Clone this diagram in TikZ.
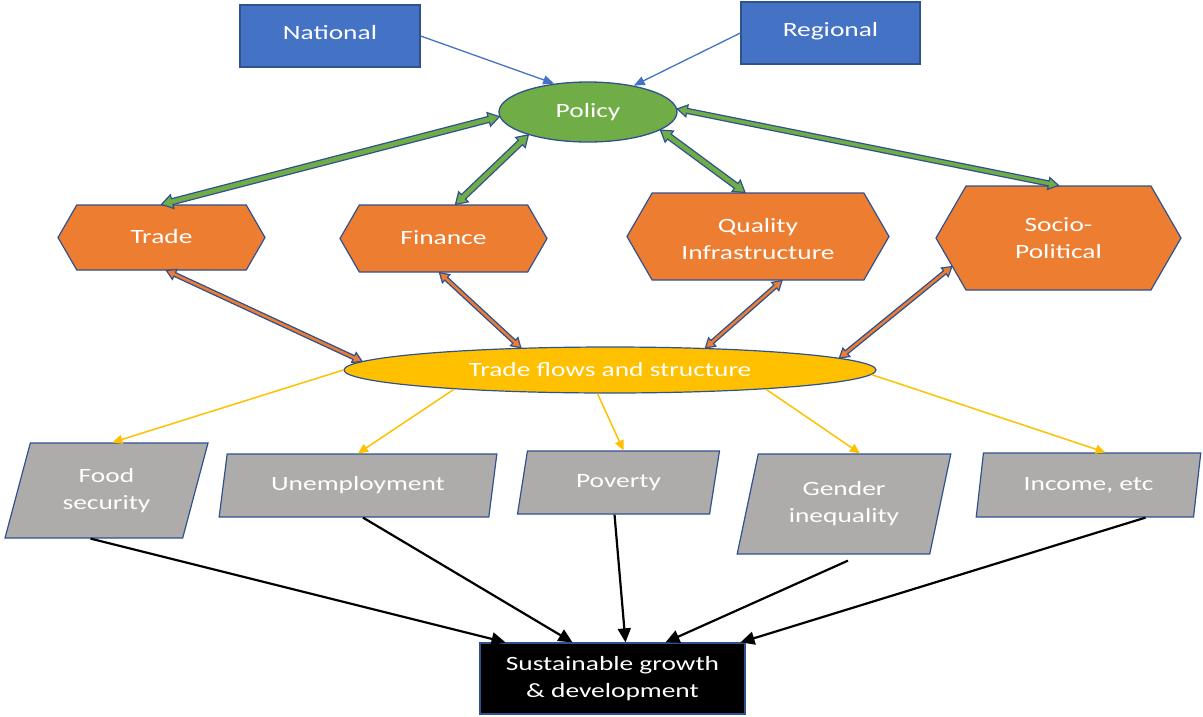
\documentclass[tikz,border=0pt]{standalone}
\usepackage{fontspec}
\setmainfont{Carlito}[FakeStretch=1.35]
\usetikzlibrary{shapes.geometric,shapes.symbols,arrows.meta,calc}
\definecolor{cblue}{HTML}{4472C4}
\definecolor{cedge}{HTML}{2F528F}
\definecolor{cgreen}{HTML}{70AD47}
\definecolor{corange}{HTML}{ED7D31}
\definecolor{cyellow}{HTML}{FFC000}
\definecolor{cgray}{HTML}{AEABAB}
\newcommand\blockarr[6]{%
  \path (#1) coordinate (bA) (#2) coordinate (bB);
  \path ($(bA)!#5!(bB)$) coordinate (bA1) ($(bB)!#5!(bA)$) coordinate (bB1);
  \draw[barrow,fill=#6] (bA) -- ($(bA1)!#4!90:(bB)$) -- ($(bA1)!#3!90:(bB)$)
    -- ($(bB1)!#3!-90:(bA)$) -- ($(bB1)!#4!-90:(bA)$) -- (bB)
    -- ($(bB1)!#4!90:(bA)$) -- ($(bB1)!#3!90:(bA)$)
    -- ($(bA1)!#3!-90:(bB)$) -- ($(bA1)!#4!-90:(bB)$) -- cycle;
}
\tikzset{
  every node/.style={text=white,font=\fontsize{20.3}{27}\selectfont,align=center,inner sep=2pt},
  bluebox/.style={rectangle,draw=cedge,line width=1.3pt,fill=cblue},
  hexbox/.style={signal,signal to=west and east,signal pointer angle=120,draw=cedge,line width=1.2pt,fill=corange},
  parbox/.style={trapezium,trapezium left angle=#1,trapezium right angle={180-#1},trapezium stretches=true,draw=cedge,line width=1.2pt,fill=cgray},
  barrow/.style={draw=cedge,line width=1.2pt,line join=miter},
  bluearr/.style={cblue,line width=1.3pt,-{Triangle[length=11pt,width=9pt]}},
  yelarr/.style={cyellow,line width=1.5pt,-{Triangle[length=10pt,width=9pt]}},
  blkarr/.style={black,line width=2.2pt,-{Triangle[length=14pt,width=13pt]}},
}
\begin{document}
\begin{tikzpicture}[x=1pt,y=-1pt]
\useasboundingbox (0,0) rectangle (1203,716);
% nodes
\node[bluebox,minimum width=180pt,minimum height=62pt] (national) at (330,36) {\raisebox{7pt}{National}};
\node[bluebox,minimum width=179pt,minimum height=62pt] (regional) at (830.5,33) {\raisebox{7pt}{Regional}};
\node[ellipse,draw=cedge,line width=1.3pt,fill=cgreen,minimum width=178pt,minimum height=60pt,inner sep=0pt] (policy) at (588,112) {\raisebox{-1pt}{Policy}};
\node[hexbox,minimum width=207pt,minimum height=65pt] (trade) at (161.5,237.5) {\raisebox{2pt}{Trade}};
\node[hexbox,minimum width=207pt,minimum height=67pt] (finance) at (443.5,238.5) {\raisebox{2pt}{Finance}};
\node[hexbox,minimum width=262pt,minimum height=87pt,label={[yshift=-3pt]center:Quality\\Infrastructure}] (qi) at (758,236.5) {};
\node[hexbox,minimum width=245pt,minimum height=104pt] (socio) at (1058.5,238) {Socio-\\Political};
\node[ellipse,draw=cedge,line width=1.2pt,fill=cyellow,minimum width=532pt,minimum height=46pt,inner sep=0pt] (tf) at (610,370) {Trade flows and structure};
\node[parbox=72.5,minimum width=203pt,minimum height=95pt] (food) at (106.5,490.5) {Food\\security};
\node[parbox=75.7,minimum width=278pt,minimum height=63pt] (unemp) at (358,485.5) {\raisebox{1pt}{Unemployment}};
\node[parbox=76.6,minimum width=203pt,minimum height=63pt] (poverty) at (618.5,482.5) {Poverty};
\node[parbox=73.8,minimum width=214pt,minimum height=100pt] (gender) at (844,504) {Gender\\inequality};
\node[parbox=76.8,minimum width=225pt,minimum height=64pt] (income) at (1088.5,485) {Income, etc};
\node[rectangle,draw=cedge,line width=1.3pt,fill=black,minimum width=265pt,minimum height=71pt] (sus) at (612.5,678.5) {Sustainable growth\\\& development};
% blue arrows
\draw[bluearr] (national.east) -- (policy.140);
\draw[bluearr] (regional.west) -- (policy.30);
% green block arrows
\blockarr{policy.183}{trade.north}{3pt}{7pt}{11pt}{cgreen}
\blockarr{policy.201}{[xshift=12pt]finance.north}{3pt}{7pt}{11pt}{cgreen}
\blockarr{policy.346}{[xshift=-13pt]qi.north}{3pt}{7pt}{11pt}{cgreen}
\blockarr{policy.2}{socio.north}{2.5pt}{6pt}{10pt}{cgreen}
% orange block arrows
\blockarr{[xshift=5pt]trade.south}{tf.178}{2pt}{5.5pt}{9pt}{corange}
\blockarr{[xshift=-4pt]finance.south}{tf.166}{2pt}{5.5pt}{9pt}{corange}
\blockarr{[xshift=24pt]qi.south}{tf.13.5}{2pt}{5.5pt}{9pt}{corange}
\blockarr{socio.195}{tf.3}{2pt}{5.5pt}{9pt}{corange}
% yellow arrows
\draw[yelarr] (tf.180.5) -- ([xshift=6pt]food.north);
\draw[yelarr] (tf.187.2) -- (unemp.north);
\draw[yelarr] (tf.242) -- ([xshift=5pt]poverty.north);
\draw[yelarr] (tf.353.6) -- ([xshift=16pt]gender.north);
\draw[yelarr] (tf.359.5) -- ([xshift=17pt]income.north);
% black arrows
\draw[blkarr] ([xshift=-16pt]food.south) -- ([xshift=-107pt]sus.north);
\draw[blkarr] ([xshift=5pt]unemp.south) -- ([xshift=-40pt]sus.north);
\draw[blkarr] ([xshift=-4pt]poverty.south) -- ([xshift=13pt]sus.north);
\draw[blkarr] ([xshift=4pt,yshift=-6pt]gender.south) -- ([xshift=53pt]sus.north);
\draw[blkarr] ([xshift=57pt]income.south) -- ([xshift=128pt]sus.north);
\end{tikzpicture}
\end{document}
